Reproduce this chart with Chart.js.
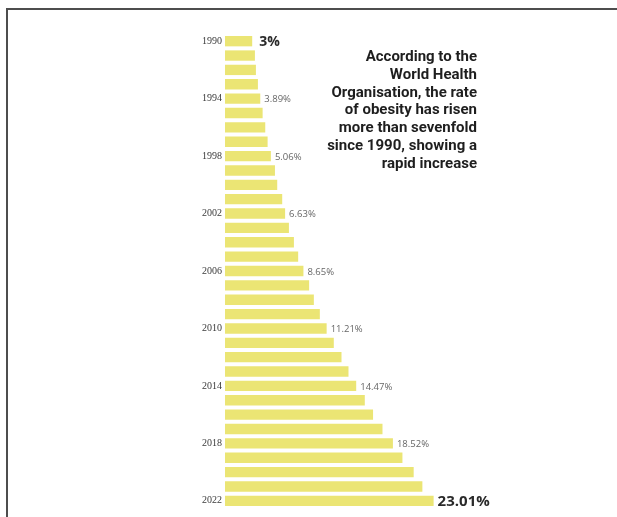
<!DOCTYPE html>
<html>
<head>
<meta charset="utf-8">
<script src="https://cdn.jsdelivr.net/npm/chart.js@4.4.1/dist/chart.umd.min.js"></script>
<style>
  html, body { margin: 0; padding: 0; background: #fff; }
  #wrap { position: relative; width: 617px; height: 517px; overflow: hidden; }
  #frame { position: absolute; left: 6px; top: 8px; width: 640px; height: 540px;
           border-top: 2px solid #4d4d4d; border-left: 2px solid #4d4d4d; }
  #chart { position: absolute; left: 0; top: 0; }
</style>
</head>
<body>
<div id="wrap">
  <div id="frame"></div>
  <canvas id="chart" width="617" height="517"></canvas>
</div>
<script>
// obesity rate by year (%)
const years = [1990, 1991, 1992, 1993, 1994, 1995, 1996, 1997, 1998, 1999, 2000,
               2001, 2002, 2003, 2004, 2005, 2006, 2007, 2008, 2009, 2010, 2011,
               2012, 2013, 2014, 2015, 2016, 2017, 2018, 2019, 2020, 2021, 2022];
const rates = [3.00, 3.30, 3.41, 3.63, 3.89, 4.15, 4.44, 4.70, 5.06, 5.51, 5.76,
               6.31, 6.63, 7.05, 7.60, 8.07, 8.65, 9.28, 9.80, 10.46, 11.21, 12.00,
               12.85, 13.62, 14.47, 15.42, 16.33, 17.37, 18.52, 19.57, 20.81, 21.77, 23.01];
const labelEvery = 4;
const note = ['According to the', 'World Health', 'Organisation, the rate',
              'of obesity has risen', 'more than sevenfold',
              'since 1990, showing a', 'rapid increase'];

// value labels next to every 4th bar, first and last in bold
const valueLabels = {
    id: 'valueLabels',
    afterDatasetsDraw(chart) {
        const ctx = chart.ctx;
        const meta = chart.getDatasetMeta(0);
        ctx.save();
        ctx.textBaseline = 'middle';
        ctx.textAlign = 'left';
        meta.data.forEach((bar, i) => {
            if (i % labelEvery !== 0) return;
            const last = i === rates.length - 1;
            const first = i === 0;
            if (first || last) {
                ctx.font = 'bold ' + (last ? 15 : 14) + 'px "Open Sans", sans-serif';
                ctx.fillStyle = '#2a2a2a';
            } else {
                ctx.font = '9.5px "Open Sans", sans-serif';
                ctx.fillStyle = '#666';
            }
            const txt = (first ? rates[i].toFixed(0) : rates[i].toFixed(2)) + '%';
            ctx.fillText(txt, bar.x + (first ? 7 : 4), bar.y + 1);
        });
        ctx.restore();
    }
};

// explanatory note in the upper right
const noteText = {
    id: 'noteText',
    afterDraw(chart) {
        const ctx = chart.ctx;
        ctx.save();
        ctx.font = 'bold 15px "Liberation Sans Narrow", "Roboto", sans-serif';
        ctx.fillStyle = '#1e1e1e';
        ctx.textAlign = 'right';
        ctx.textBaseline = 'middle';
        note.forEach((line, i) => {
            ctx.fillText(line, 477, 57 + i * 17.9);
        });
        ctx.restore();
    }
};

const ctx = document.getElementById('chart').getContext('2d');
const obesityChart = new Chart(ctx, {
    type: 'bar',
    data: {
        labels: years,
        datasets: [{
            data: rates,
            backgroundColor: '#ebe574',
            borderWidth: 0,
            categoryPercentage: 1,
            barPercentage: 0.72
        }]
    },
    options: {
        indexAxis: 'y',
        responsive: false,
        animation: false,
        layout: {
            padding: { top: 34, bottom: 7, left: 0, right: 120 }
        },
        scales: {
            x: {
                display: false,
                min: 0,
                max: 30
            },
            y: {
                afterFit(scale) { scale.width = 225; },
                border: { display: false },
                grid: { display: false, drawTicks: false },
                ticks: {
                    autoSkip: false,
                    padding: 3,
                    color: '#3a3a3a',
                    font: { family: '"Liberation Serif", serif', size: 10 },
                    callback: function(val, i) {
                        return i % labelEvery === 0 ? years[i] : '';
                    }
                }
            }
        },
        plugins: {
            legend: { display: false },
            tooltip: { enabled: false }
        }
    },
    plugins: [valueLabels, noteText]
});
</script>
</body>
</html>
